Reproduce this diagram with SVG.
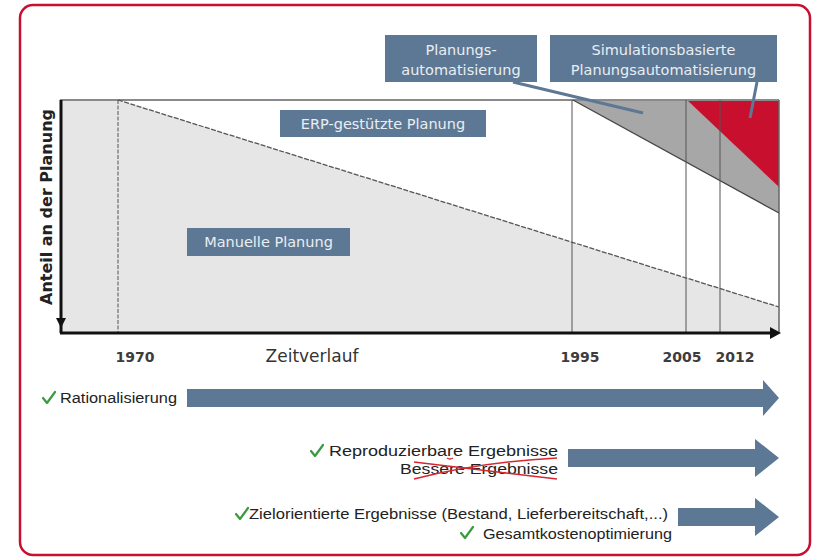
<svg xmlns="http://www.w3.org/2000/svg" width="825" height="560" viewBox="0 0 825 560">
<style>
.lbl{fill:#5d7894}
.lt{font-family:"DejaVu Sans",Verdana,sans-serif;font-size:14.5px;fill:#e9eef3;text-anchor:middle}
.yr{font-family:"DejaVu Sans",Verdana,sans-serif;font-size:14px;font-weight:bold;fill:#3c3c3c;text-anchor:middle}
.vl{stroke:#555;stroke-width:1;fill:none}
.bt{font-family:"Liberation Sans",Arial,sans-serif;font-size:14px;fill:#222}
.chk{fill:none;stroke:#3a9a3e;stroke-width:2.2;stroke-linecap:round;stroke-linejoin:round}
.arr{fill:#5d7894}
.con{stroke:#5d7894;stroke-width:3;fill:none}
</style>
<rect x="20" y="5" width="790" height="550" rx="13" fill="#fff" stroke="#c8102e" stroke-width="2.5"/>
<g id="chart">
<polygon points="60,100 118,100 779,307 779,333 60,333" fill="#e6e6e6"/>
<polygon points="573,100 779,100 779,213" fill="#a7a7a7"/>
<polygon points="687,100 779,100 779,187" fill="#c8102e"/>
<line x1="60" y1="100" x2="779" y2="100" stroke="#8a8a8a" stroke-width="2"/>
<line x1="779" y1="100" x2="779" y2="333" stroke="#666" stroke-width="1.5"/>
<line x1="118" y1="100" x2="779" y2="307" stroke="#555" stroke-width="1.3" stroke-dasharray="5,1.5"/>
<line x1="573" y1="100" x2="779" y2="213" stroke="#444" stroke-width="1.3"/>
<line class="vl" x1="118" y1="100" x2="118" y2="333" stroke-dasharray="4,1.5"/>
<line class="vl" x1="572" y1="100" x2="572" y2="333"/>
<line class="vl" x1="686" y1="100" x2="686" y2="333"/>
<line class="vl" x1="720" y1="100" x2="720" y2="333"/>
<line x1="61" y1="100" x2="61" y2="333" stroke="#111" stroke-width="3"/>
<polygon points="56,318 66,318 61,328" fill="#111"/>
<line x1="60" y1="333" x2="772" y2="333" stroke="#111" stroke-width="3"/>
<polygon points="770,327 781,333 770,339" fill="#111"/>
<text transform="translate(52,207) rotate(-90)" font-family="'DejaVu Sans',Verdana,sans-serif" font-size="16" font-weight="bold" fill="#222" text-anchor="middle">Anteil an der Planung</text>
</g>
<g id="years">
<text class="yr" x="135" y="362">1970</text>
<text x="312" y="362" font-family="'DejaVu Sans',Verdana,sans-serif" font-size="17" fill="#333" text-anchor="middle">Zeitverlauf</text>
<text class="yr" x="580" y="362">1995</text>
<text class="yr" x="682" y="362">2005</text>
<text class="yr" x="735" y="362">2012</text>
</g>
<g id="connectors">
<line class="con" x1="513" y1="82" x2="643" y2="113"/>
<line class="con" x1="757" y1="82" x2="750" y2="118"/>
</g>
<g id="erp">
<rect class="lbl" x="280" y="110" width="206" height="27"/>
<text class="lt" x="383" y="129">ERP-gestützte Planung</text>
</g>
<g id="manuell">
<rect class="lbl" x="187" y="228" width="163" height="28"/>
<text class="lt" x="268.5" y="247">Manuelle Planung</text>
</g>
<g id="planungsautomatisierung">
<rect class="lbl" x="385" y="35" width="152" height="47"/>
<text class="lt" x="461" y="55">Planungs-</text>
<text class="lt" x="461" y="75">automatisierung</text>
</g>
<g id="simulation">
<rect class="lbl" x="550" y="35" width="227" height="47"/>
<text class="lt" x="663.5" y="55">Simulationsbasierte</text>
<text class="lt" x="663.5" y="75">Planungsautomatisierung</text>
</g>
<g id="row1">
<path class="chk" d="M43,398 L47,403 L55,392"/>
<text class="bt" x="60" y="403" textLength="117" lengthAdjust="spacingAndGlyphs">Rationalisierung</text>
<polygon class="arr" points="187,389 763,389 763,380 779,398 763,416 763,407 187,407"/>
</g>
<g id="row2">
<path class="chk" d="M311,451 L315,456 L323,445"/>
<text class="bt" x="558" y="456" text-anchor="end" textLength="229" lengthAdjust="spacingAndGlyphs">Reproduzierbare Ergebnisse</text>
<text class="bt" x="558" y="474" text-anchor="end" textLength="158" lengthAdjust="spacingAndGlyphs">Bessere Ergebnisse</text>
<path d="M414,479 Q480,462 557,458" stroke="#d8252f" stroke-width="1.5" fill="none"/>
<path d="M414,462 Q480,470 557,479" stroke="#d8252f" stroke-width="1.5" fill="none"/>
<path d="M447,458 q3,2 6,0" stroke="#d8252f" stroke-width="1.3" fill="none"/>
<polygon class="arr" points="568,449 755,449 755,439 779,458 755,477 755,467 568,467"/>
</g>
<g id="row3">
<path class="chk" d="M236,514 L240,519 L248,508"/>
<text class="bt" x="249" y="519" textLength="419" lengthAdjust="spacingAndGlyphs">Zielorientierte Ergebnisse (Bestand, Lieferbereitschaft,...)</text>
<path class="chk" d="M461,533 L465,538 L473,527"/>
<text class="bt" x="483" y="539" textLength="189" lengthAdjust="spacingAndGlyphs">Gesamtkostenoptimierung</text>
<polygon class="arr" points="678,508 755,508 755,498 779,517 755,536 755,526 678,526"/>
</g>
</svg>
